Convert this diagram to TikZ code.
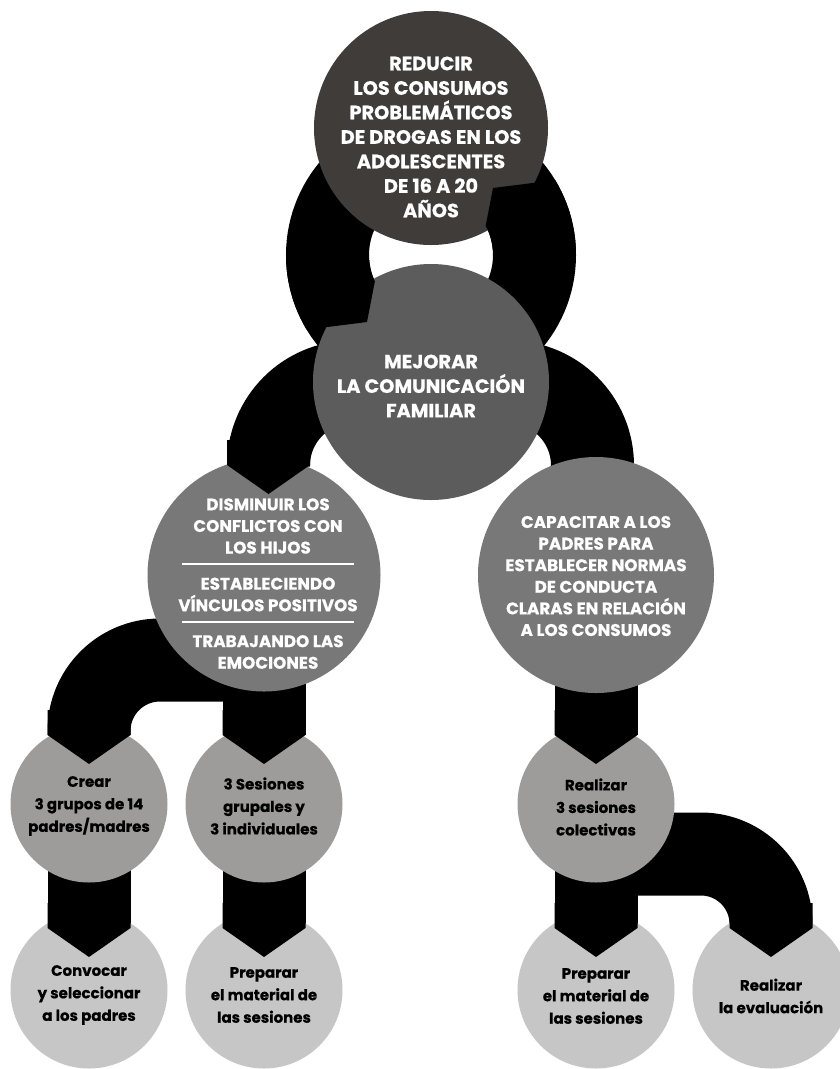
\documentclass[tikz,border=0pt]{standalone}
\usepackage{fontspec}
\setmainfont{Poppins}[BoldFeatures={FakeBold=0.5}]
\usetikzlibrary{calc}
\pgfdeclarelayer{bg}
\pgfdeclarelayer{fg}
\pgfsetlayers{bg,main,fg}
\definecolor{cA}{RGB}{64,60,58}
\definecolor{cB}{RGB}{93,92,93}
\definecolor{cC}{RGB}{121,120,121}
\definecolor{cD}{RGB}{157,156,155}
\definecolor{cE}{RGB}{198,198,198}
\begin{document}
\begin{tikzpicture}[x=1pt,y=-1pt,
  band/.style={draw=black,line width=83pt},
  circ/.style={circle,inner sep=0pt,outer sep=0pt,minimum size=#1},
  t1/.style={text=white,align=center,font=\bfseries\fontsize{19.3}{24.5}\selectfont},
  t2/.style={text=white,align=center,font=\bfseries\fontsize{16.8}{21.6}\selectfont},
  t3/.style={text=black,align=center,font=\bfseries\fontsize{15}{22.5}\selectfont},
  rulel/.style={draw=white,line width=2.5pt},
  vtip/.pic={\fill[black] (-41.5,-25) -- (41.5,-25) -- (41.5,0) -- (0,29) -- (-41.5,0) -- cycle;}
]
\useasboundingbox (0,0) rectangle (839,1069);

% circles
\node[circ=234pt,fill=cA] (reducir) at (431,128) {};
\node[circ=236pt,fill=cB] (mejorar) at (431,382) {};
\node[circ=233pt,fill=cC] (disminuir) at (264,575) {};
\node[circ=236pt,fill=cC] (capacitar) at (596,575) {};
\node[circ=157pt,fill=cD] (crear) at (89,804) {};
\node[circ=157pt,fill=cD] (sesiones) at (264,804) {};
\node[circ=157pt,fill=cD] (realizar) at (596,804) {};
\node[circ=157pt,fill=cE] (convocar) at (89,990) {};
\node[circ=157pt,fill=cE] (prepL) at (264,990) {};
\node[circ=157pt,fill=cE] (prepR) at (596,990) {};
\node[circ=157pt,fill=cE] (evaluar) at (771,990) {};
\coordinate (ringc) at ($(reducir)!0.5!(mejorar)$);

% background and connectors behind
\begin{pgfonlayer}{bg}
\fill[white] (0,0) rectangle (839,1069);
\draw[band] (ringc) circle[radius=103.5];
\draw[band] (mejorar.center) -- (352,382) arc[start angle=270,end angle=180,radius=83.5] -- (268.5,466);
\draw[band] (mejorar.center) -- (509,382) arc[start angle=270,end angle=360,radius=83.5] -- (592.5,520);
\draw[band] (disminuir.center) -- ($(sesiones.center)+(0,-69)$);
\draw[band,rounded corners=71pt] ($(disminuir.center)+(0,85)$) -- ($(crear.center)+(0,-144)$) -- ($(crear.center)+(0,-69)$);
\draw[band] (crear.center) -- ($(convocar.center)+(0,-62)$);
\draw[band] (sesiones.center) -- ($(prepL.center)+(0,-62)$);
\draw[band] (capacitar.center) -- ($(realizar.center)+(0,-69)$);
\draw[band] (realizar.center) -- ($(prepR.center)+(0,-62)$);
\draw[band,rounded corners=70pt] ($(realizar.center)+(0,50)$) -- ($(evaluar.center)+(0,-136)$) -- ($(evaluar.center)+(0,-62)$);
\end{pgfonlayer}

\begin{pgfonlayer}{fg}
% interlocking ring parts
\begin{scope}
\clip (493,188) -- (691,163) -- (700,250) -- (481,250) -- cycle;
\draw[band] (ringc) circle[radius=103.5];
\end{scope}
\begin{scope}
\clip (367,322) -- (169,347) -- (160,260) -- (379,260) -- cycle;
\draw[band] (ringc) circle[radius=103.5];
\end{scope}
% arrow points
\pic at ($(disminuir.center)+(4.5,-110)$) {vtip};
\pic at ($(crear.center)+(0,-69)$) {vtip};
\pic at ($(sesiones.center)+(0,-69)$) {vtip};
\pic at ($(realizar.center)+(0,-69)$) {vtip};
\pic at ($(convocar.center)+(0,-62)$) {vtip};
\pic at ($(prepL.center)+(0,-62)$) {vtip};
\pic at ($(prepR.center)+(0,-62)$) {vtip};
\pic at ($(evaluar.center)+(0,-62)$) {vtip};
% texts
\node[t1] (treducir) at (431,137) {REDUCIR\\LOS CONSUMOS\\PROBLEMÁTICOS\\DE DROGAS EN LOS\\ADOLESCENTES\\DE 16 A 20\\AÑOS};
\node[t1] (tmejorar) at (431,386) {MEJORAR\\LA COMUNICACIÓN\\FAMILIAR};
\node[t2] (tdis1) at (268,526) {DISMINUIR LOS\\CONFLICTOS CON\\LOS HIJOS};
\node[t2] (tdis2) at (268,594.5) {ESTABLECIENDO\\VÍNCULOS POSITIVOS};
\node[t2] (tdis3) at (268,652) {TRABAJANDO LAS\\EMOCIONES};
\draw[rulel] (182,564) -- (354,564);
\draw[rulel] (182,622) -- (354,622);
\node[t2] (tcap) at (596,576) {CAPACITAR A LOS\\PADRES PARA\\ESTABLECER NORMAS\\DE CONDUCTA\\CLARAS EN RELACIÓN\\A LOS CONSUMOS};
\node[t3] (tcrear) at (89,806) {Crear\\3 grupos de 14\\padres/madres};
\node[t3] (tses) at (264,806) {3 Sesiones\\grupales y\\3 individuales};
\node[t3] (treal) at (596,807) {Realizar\\3 sesiones\\colectivas};
\node[t3] (tconv) at (89,995) {Convocar\\y seleccionar\\a los padres};
\node[t3] (tprepL) at (264,995) {Preparar\\el material de\\las sesiones};
\node[t3] (tprepR) at (596,996) {Preparar\\el material de\\las sesiones};
\node[t3] (teval) at (771,996) {Realizar\\la evaluación};
\end{pgfonlayer}
\end{tikzpicture}
\end{document}
